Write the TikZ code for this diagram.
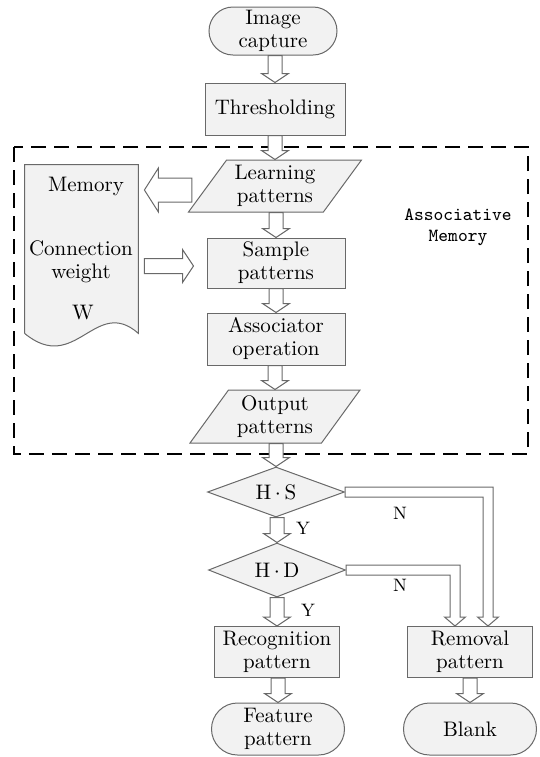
\documentclass[tikz,border=0pt]{standalone}
\definecolor{boxfill}{RGB}{242, 242, 242}
\definecolor{edgegray}{RGB}{105, 105, 105}
\usepackage{tikz}
\usetikzlibrary{shapes.geometric, shapes.misc, calc}

% hollow block arrows (tail, tip)
\newcommand{\vfat}[2]{%
  \draw[fat] let \p1=(#1), \p2=(#2) in
    ({\x2-3.5pt},\y1) -- ({\x2-3.5pt},{\y2+4.5pt}) -- ({\x2-6.75pt},{\y2+4.5pt}) -- (\x2,\y2)
    -- ({\x2+6.75pt},{\y2+4.5pt}) -- ({\x2+3.5pt},{\y2+4.5pt}) -- ({\x2+3.5pt},\y1) -- cycle;}
\newcommand{\hfat}[5]{%
  \draw[fat] let \p1=(#1), \p2=(#2) in
    (\x1,{\y2+#3}) -- ({\x2-(#5)},{\y2+#3}) -- ({\x2-(#5)},{\y2+#4}) -- (\x2,\y2)
    -- ({\x2-(#5)},{\y2-#4}) -- ({\x2-(#5)},{\y2-#3}) -- (\x1,{\y2-#3}) -- cycle;}
\newcommand{\elbowfat}[2]{%
  \draw[fat] let \p1=(#1), \p2=(#2) in
    (\x1,{\y1+2.5pt}) -- ({\x2+2.5pt},{\y1+2.5pt}) -- ({\x2+2.5pt},{\y2+4.5pt})
    -- ({\x2+5.25pt},{\y2+4.5pt}) -- (\x2,\y2) -- ({\x2-5.25pt},{\y2+4.5pt})
    -- ({\x2-2.5pt},{\y2+4.5pt}) -- ({\x2-2.5pt},{\y1-2.5pt}) -- (\x1,{\y1-2.5pt}) -- cycle;}

\begin{document}
\begin{tikzpicture}[x=0.5pt, y=-0.5pt,
  box/.style={draw=edgegray, fill=boxfill, line width=0.5pt, align=center, inner sep=1pt,
              font=\fontsize{10.5}{11.5}\selectfont},
  term/.style={box, rounded rectangle},
  io/.style={box, trapezium, trapezium left angle=50, trapezium right angle=130,
             trapezium stretches body},
  dec/.style={box, diamond, aspect=2.7, inner sep=0pt},
  fat/.style={draw=edgegray, fill=white, line width=0.5pt},
  lbl/.style={font=\fontsize{9}{10}\selectfont},
]
\useasboundingbox (0,0) rectangle (540,757);

% Associative memory frame
\draw[line width=0.9pt, dash pattern=on 7.5pt off 4pt] (14,147) rectangle (528,454);
\node[font=\fontsize{9.3}{10.5}\selectfont\ttfamily, align=center] (amlabel) at (458,227)
  {Associative\\Memory};

% Main column
\node[term, minimum width=66pt, minimum height=24pt] (cap) at (273,31) {Image\\capture};
\node[box, minimum width=70pt, minimum height=26pt] (thr) at (275,109) {Thresholding};
\node[io, minimum width=86.5pt, minimum height=26pt] (learn) at (275,186) {Learning\\patterns};
\node[box, minimum width=69pt, minimum height=25pt] (samp) at (276,263) {Sample\\patterns};
\node[box, minimum width=69pt, minimum height=26pt] (assoc) at (276,339) {Associator\\operation};
\node[io, minimum width=85pt, minimum height=26.5pt] (outp) at (275,416.5) {Output\\patterns};
\node[dec, minimum width=68.5pt, minimum height=25pt] (hs) at (276,492) {H\,$\cdot$\,S};
\node[dec, minimum width=68.5pt, minimum height=27pt] (hd) at (277,570) {H\,$\cdot$\,D};
\node[box, minimum width=62.5pt, minimum height=25.5pt] (rec) at (277,652) {Recognition\\pattern};
\node[term, minimum width=68.5pt, minimum height=26pt] (feat) at (278,729) {Feature\\pattern};

% Removal branch
\node[box, minimum width=62.5pt, minimum height=25.5pt] (rem) at (470,652) {Removal\\pattern};
\node[term, minimum width=68.5pt, minimum height=26pt] (blank) at (470,729) {Blank};

% Memory (document)
\node[minimum width=56.5pt, minimum height=84pt, inner sep=0pt] (mem) at (81.5,249) {};
\draw[fill=boxfill, draw=edgegray, line width=0.5pt] (mem.south west) -- (mem.north west)
  -- (mem.north east) -- (mem.south east)
  .. controls ($(mem.south east)+(-43,-38)$) and ($(mem.south east)+(-63,42)$) .. (mem.south west);
\node[font=\fontsize{10.5}{11.5}\selectfont] (memtxt) at (86,186) {Memory};
\node[font=\fontsize{10.5}{11.5}\selectfont, align=center] (cwtxt) at (81,262) {Connection\\weight};
\node[font=\fontsize{10.5}{11.5}\selectfont] (wtxt) at (83,313) {W};

% Arrows
\vfat{cap.south}{thr.north}
\vfat{thr.south}{learn.north}
\vfat{learn.south}{samp.north}
\vfat{samp.south}{assoc.north}
\vfat{assoc.south}{outp.north}
\vfat{outp.south}{hs.north}
\vfat{hs.south}{hd.north}
\vfat{hd.south}{rec.north}
\vfat{rec.south}{feat.north}
\vfat{rem.south}{blank.north}
\hfat{$(learn.west)+(-15,4)$}{$(mem.east |- learn.west)+(6,4)$}{6pt}{11pt}{-7pt}
\hfat{$(mem.east |- samp.west)+(6,3)$}{$(samp.west)+(-13,3)$}{3.75pt}{8.25pt}{5.5pt}
\elbowfat{hs.east}{$(rem.north)+(18,0)$}
\elbowfat{hd.east}{$(rem.north)+(-15,0)$}

% Branch labels
\node[lbl] (ys) at (303,528) {Y};
\node[lbl] (yd) at (308,610) {Y};
\node[lbl] (ns) at (400,513) {N};
\node[lbl] (nd) at (400,585) {N};
\end{tikzpicture}
\end{document}
